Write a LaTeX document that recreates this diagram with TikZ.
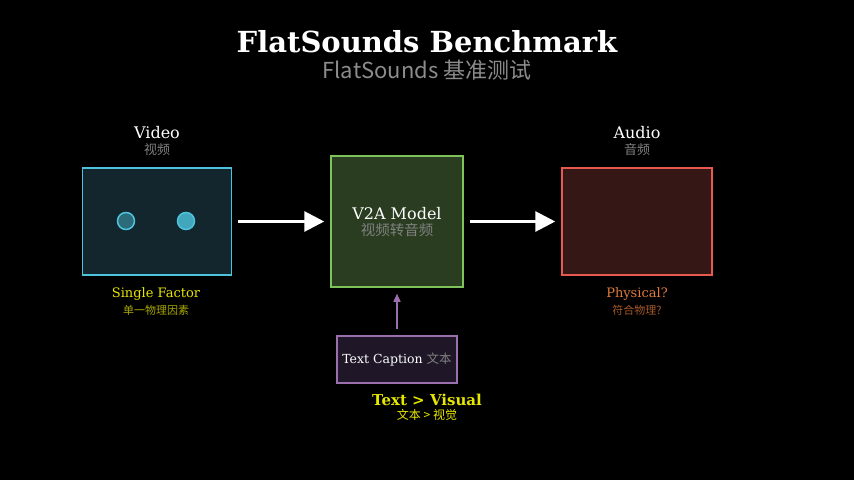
\documentclass[tikz,border=0pt]{standalone}
\usepackage{fontspec}
\setmainfont{DejaVu Serif}
\newfontfamily\cjk{Noto Sans CJK SC}
\usetikzlibrary{arrows.meta}
\definecolor{vidfill}{HTML}{13262D}
\definecolor{vidline}{HTML}{4EC3DD}
\definecolor{modfill}{HTML}{2A3D20}
\definecolor{modline}{HTML}{7EC35A}
\definecolor{audfill}{HTML}{351716}
\definecolor{audline}{HTML}{E85A4F}
\definecolor{capfill}{HTML}{1F1627}
\definecolor{capline}{HTML}{9B6FAE}
\definecolor{ylw}{HTML}{E6E600}
\definecolor{ylwdim}{HTML}{A8A800}
\definecolor{org}{HTML}{E07B39}
\definecolor{orgdim}{HTML}{A85A2A}
\tikzset{
  box/.style={draw, line width=1.5pt, minimum width=#1},
  lbl/.style={text=white, font=\fontsize{16}{16}\selectfont},
  sub/.style={text=gray, font=\cjk\fontsize{13}{13}\selectfont},
  flow/.style={white, line width=3pt, -{Triangle[length=20pt,width=20pt]}}
}
\begin{document}
\begin{tikzpicture}[x=1pt,y=-1pt]
    \fill [black] (0,0) rectangle (854,480);
    \useasboundingbox (0,0) rectangle (854,480);
    % title
    \node (title) at (427,42) [text=white, font=\bfseries\fontsize{29}{29}\selectfont] {FlatSounds Benchmark};
    \node (subtitle) at (427,70) [text=gray!90, font=\cjk\fontsize{22}{22}\selectfont] {FlatSounds 基准测试};
    % boxes
    \node (video) [box=149pt, draw=vidline, fill=vidfill, minimum height=107pt] at (157,221.5) {};
    \node (model) [box=132pt, draw=modline, fill=modfill, minimum height=131pt] at (397,221.5) {};
    \node (audio) [box=150pt, draw=audline, fill=audfill, minimum height=107pt] at (637,221.5) {};
    \node (caption) [box=120pt, draw=capline, fill=capfill, minimum height=47pt] at (397,359.5) {};
    % dots
    \draw [vidline, line width=1.5pt, fill=vidline!55!black] (126,221) circle (8.5);
    \draw [vidline, line width=1.5pt, fill=vidline!85!black] (186,221) circle (8.5);
    % texts
    \node (vidlbl) [lbl] at (157,133) {Video};
    \node (vidsub) [sub] at (157,150) {视频};
    \node (audlbl) [lbl] at (637,133) {Audio};
    \node (audsub) [sub] at (637,150) {音频};
    \node (modlbl) [lbl] at (397,214) {V2A Model};
    \node (modsub) [sub, font=\cjk\fontsize{14.5}{14.5}\selectfont] at (397,230) {视频转音频};
    \node (caplbl) [text=white, font=\fontsize{12.5}{12.5}\selectfont, inner sep=0pt] at (397,359.5) {Text Caption \textcolor{gray}{\cjk 文本}};
    \node (single) [text=ylw, font=\fontsize{13}{13}\selectfont] at (156,294) {Single Factor};
    \node (singlesub) [text=ylwdim, font=\cjk\fontsize{11}{11}\selectfont] at (156,310) {单一物理因素};
    \node (phys) [text=org, font=\fontsize{13}{13}\selectfont] at (637,294) {Physical?};
    \node (physsub) [text=orgdim, font=\cjk\fontsize{11}{11}\selectfont] at (637,310) {符合物理?};
    \node (tv) [text=ylw, font=\bfseries\fontsize{15}{15}\selectfont] at (427,400) {Text > Visual};
    \node (tvsub) [text=ylw, font=\cjk\fontsize{12}{12}\selectfont] at (427,415) {文本 > 视觉};
    % arrows
    \draw [flow] ([xshift=6pt]video.east) -- ([xshift=-6pt]model.west);
    \draw [flow] ([xshift=6pt]model.east) -- ([xshift=-6pt]audio.west);
    \draw [capline, line width=1.5pt, -{Triangle[length=8pt,width=7pt]}] ([yshift=6pt]caption.north) -- ([yshift=-6pt]model.south);
\end{tikzpicture}
\end{document}
